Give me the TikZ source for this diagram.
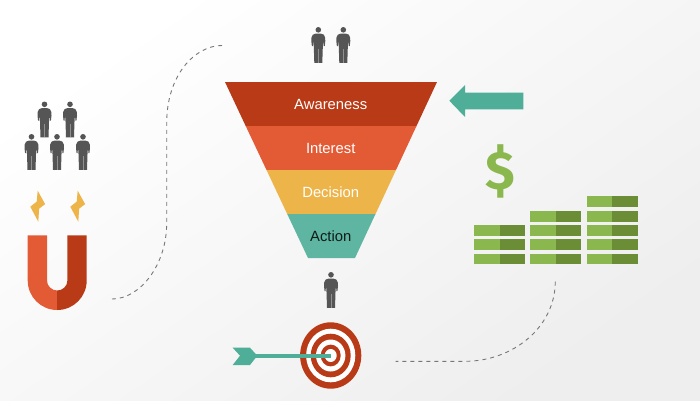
\documentclass[tikz,border=0pt]{standalone}
\usepackage{fontspec}
\setmainfont{Liberation Sans}
\newfontfamily\dollarfont{Fira Sans}
\definecolor{fdark}{HTML}{B83A16}
\definecolor{forange}{HTML}{E35B35}
\definecolor{fyellow}{HTML}{EDB44A}
\definecolor{fteal}{HTML}{5DB5A2}
\definecolor{arrteal}{HTML}{4EAE98}
\definecolor{glight}{HTML}{8BB84E}
\definecolor{gdark}{HTML}{6A8D36}
\definecolor{persongray}{HTML}{555555}
\definecolor{gapgray}{HTML}{909090}
\definecolor{dashgray}{HTML}{777777}
\definecolor{bgend}{HTML}{EEEEEE}
\tikzset{
  x=1pt,y=-1pt,
  flabel/.style={font=\fontsize{14.8}{16}\selectfont,text=white,inner sep=0pt,anchor=center},
  pathdash/.style={draw=dashgray,line width=0.9pt,dash pattern=on 4pt off 4pt},
  person/.pic={
    \fill[persongray] (0,2.8) circle[radius=2.8];
    \fill[persongray] (-2.5,6.6) .. controls (-5,6.9) and (-6.4,7.8) .. (-6.8,10.5) -- (-7,14) -- (-6.4,19.2) -- (-5.4,19.2) -- (-5,12.5) -- (-4.5,20) -- (-4,35.8) -- (4,35.8) -- (4.5,20) -- (5,12.5) -- (5.4,19.2) -- (6.4,19.2) -- (7,14) -- (6.8,10.5) .. controls (6.4,7.8) and (5,6.9) .. (2.5,6.6) -- cycle;
    \draw[gapgray,line width=0.7pt] (0,22) -- (0,35.8);
  },
  bolt/.pic={
    \fill[fyellow] (0,0) -- (7.4,13.4) -- (1.4,18) -- (0.6,31) -- (-7.4,16) -- (-1,11) -- cycle;
  },
  bill/.pic={
    \fill[glight] (0,0) rectangle (25.5,10.6);
    \fill[gdark] (25.5,0) rectangle (51,10.6);
  }
}
\begin{document}
\begin{tikzpicture}
\useasboundingbox (0,0) rectangle (700,400);
\shade[top color=white,bottom color=bgend,shading angle=35] (0,0) rectangle (700,400);

% dashed paths
\coordinate (la) at (222,45.5);
\coordinate (lb) at (166.7,123);
\coordinate (lc) at (166.7,223);
\coordinate (ld) at (112,299);
\draw[pathdash] (la) .. controls (195,45.5) and (166.7,75) .. (lb) -- (lc) .. controls (166.7,265) and (140,299) .. (ld);
\coordinate (ra) at (555.3,281.7);
\coordinate (rb) at (465,361.3);
\coordinate (rc) at (395.7,361.3);
\draw[pathdash] (ra) .. controls (555,328) and (512,361.3) .. (rb) -- (rc);

% funnel
\fill[fdark] (225,82) -- (437,82) -- (416.5,126) -- (245.7,126) -- cycle;
\fill[forange] (245.7,126) -- (416.5,126) -- (396,170) -- (266.5,170) -- cycle;
\fill[fyellow] (266.5,170) -- (396,170) -- (375.5,214) -- (287.2,214) -- cycle;
\fill[fteal] (287.2,214) -- (375.5,214) -- (355,258) -- (308,258) -- cycle;
\node[flabel] (awareness) at (330.7,104) {Awareness};
\node[flabel] (interest) at (330.7,148) {Interest};
\node[flabel] (decision) at (330.7,192.5) {Decision};
\node[flabel,text=black!85!fteal] (action) at (330.7,236.5) {Action};

% people
\foreach \px/\py in {44.5/101.5,70/101.5,31.5/134,57/134,83/134,318.3/27,343.3/27,331/272}
  \pic at (\px,\py) {person};

% magnet
\fill[forange] (27.7,235.3) -- (47,235.3) -- (47,280.5) .. controls (47,286) and (51.6,290.5) .. (57.2,290.5) -- (57.2,310) .. controls (40.9,310) and (27.7,296.8) .. (27.7,280.5) -- cycle;
\fill[fdark] (86.7,235.3) -- (67.4,235.3) -- (67.4,280.5) .. controls (67.4,286) and (62.8,290.5) .. (57.2,290.5) -- (57.2,310) .. controls (73.5,310) and (86.7,296.8) .. (86.7,280.5) -- cycle;
\pic at (37.7,190.7) {bolt};
\pic at (77.7,190.7) {bolt};

% arrow
\fill[arrteal] (449.3,100.7) -- (465,85) -- (465,92.7) -- (523.3,92.7) -- (523.3,109.3) -- (465,109.3) -- (465,117) -- cycle;

% dollar
\node[text=glight,inner sep=0pt,font=\fontsize{54}{54}\dollarfont\bfseries] (dollar) at (500,171) {\$};

% bills
\foreach \bx/\by in {474/253.7,474/239.3,474/225,
                     530/253.7,530/239.3,530/225,530/211,
                     586.5/253.7,586.5/239.3,586.5/225,586.5/211,586.5/196.3}
  \pic at (\bx,\by) {bill};

% target
\fill[fdark] (330.7,355.5) ellipse[x radius=30.6,y radius=33.2];
\fill[white] (330.7,355.5) ellipse[x radius=24.6,y radius=26.8];
\fill[fdark] (330.7,355.5) ellipse[x radius=20,y radius=21.8];
\fill[white] (330.7,355.5) ellipse[x radius=14.7,y radius=16];
\fill[fdark] (330.7,355.5) ellipse[x radius=10,y radius=10.9];
\fill[white] (330.7,355.5) ellipse[x radius=6,y radius=6.5];
% dart
\fill[arrteal] (255,353.9) rectangle (331,357.5);
\fill[arrteal] (232.7,347.7) -- (250,347.7) -- (257.3,355.7) -- (250,365) -- (232.7,365) -- (240,355.7) -- cycle;
\end{tikzpicture}
\end{document}
